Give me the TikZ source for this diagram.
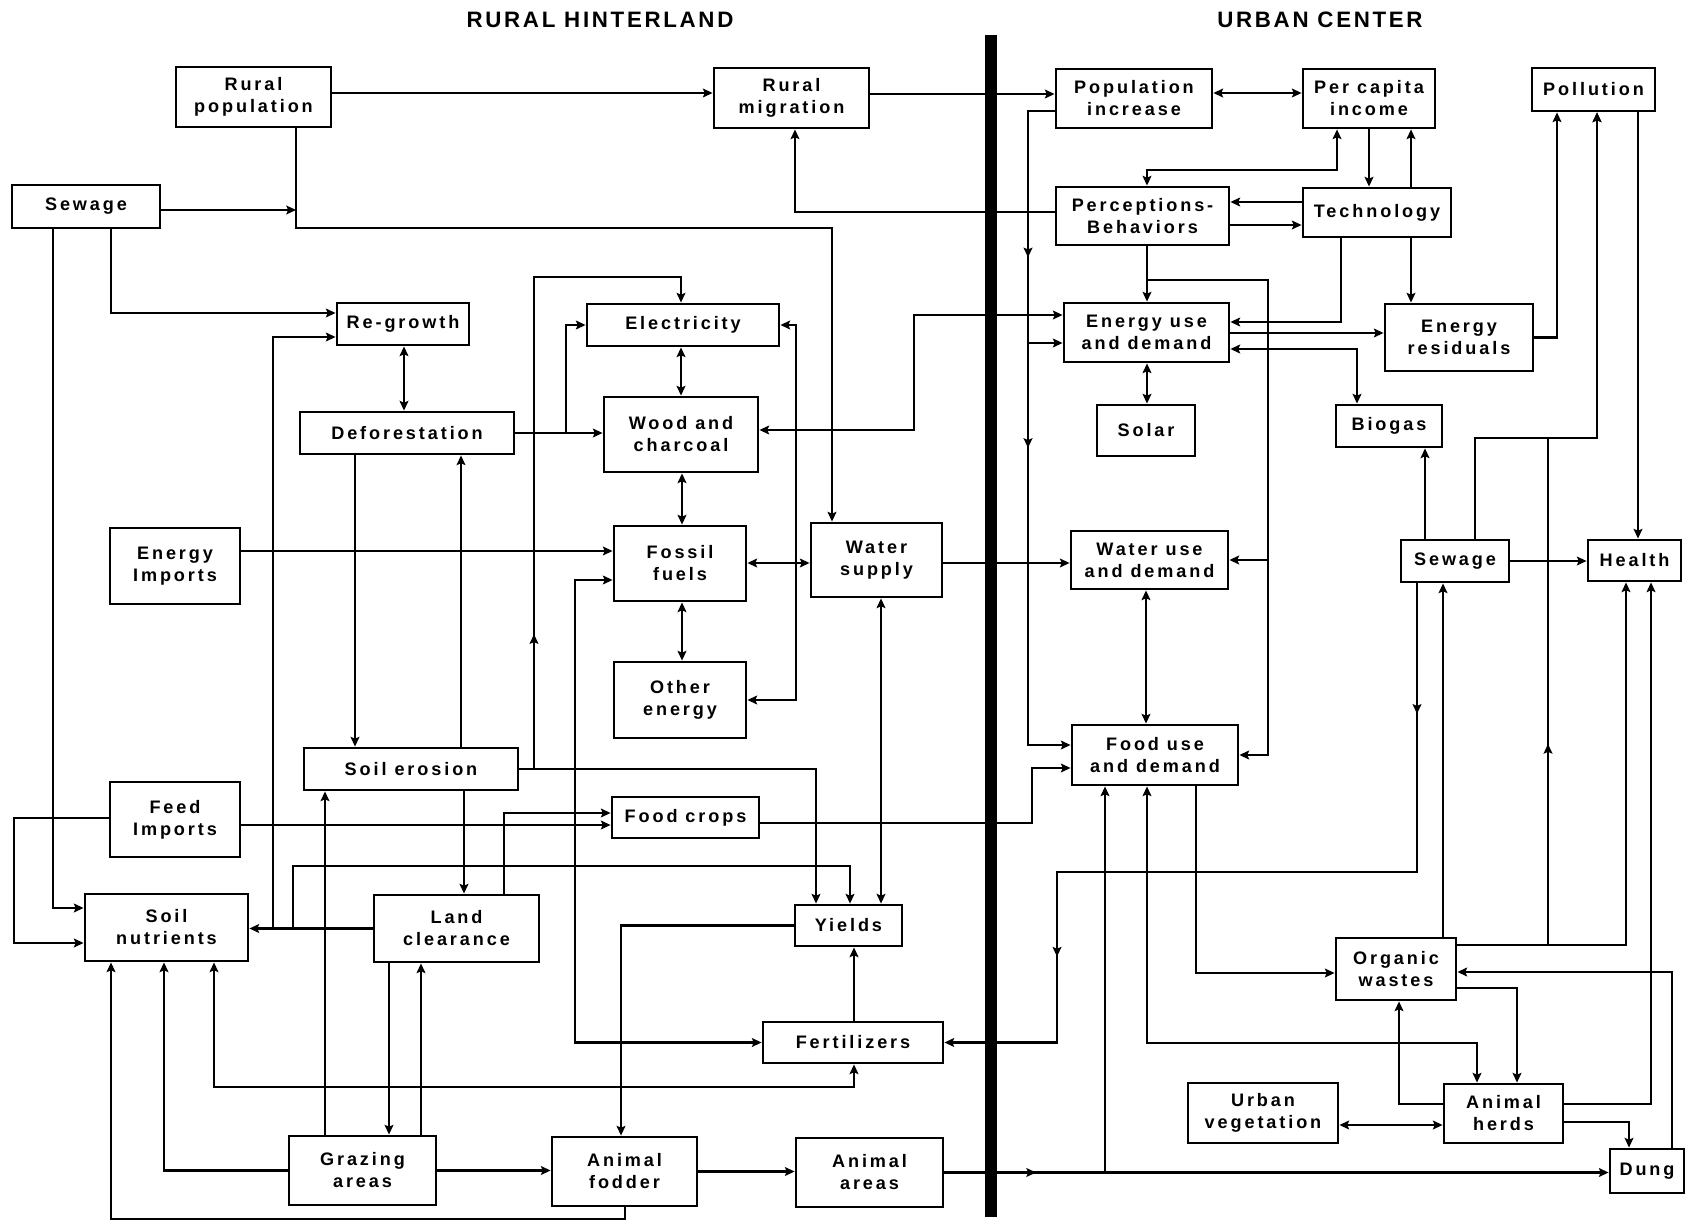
\documentclass[tikz,border=0pt]{standalone}
\usepackage{fontspec}
\newfontfamily\boxfont{Liberation Sans}[LetterSpace=16]
\newfontfamily\headfont{Liberation Sans}[LetterSpace=12]
\usetikzlibrary{arrows.meta,decorations.markings}
\tikzset{
  box/.style={draw, line width=1.6pt, inner sep=0pt, align=center,
    font=\boxfont\bfseries\fontsize{10.3}{12.5}\selectfont},
  sz/.style 2 args={minimum width=#1*0.02cm, minimum height=#2*0.02cm},
  arr/.style={-{Stealth[length=5.5pt,width=5pt,inset=1pt]}},
  dbl/.style={{Stealth[length=5.5pt,width=5pt,inset=1pt]}-{Stealth[length=5.5pt,width=5pt,inset=1pt]}},
  midarrow/.style={postaction={decorate,decoration={markings,
    mark=at position #1 with {\arrow{Stealth[length=5.5pt,width=5pt,inset=1pt]}}}}}
}
\begin{document}
\begin{tikzpicture}[x=0.02cm,y=-0.02cm,line width=1.6pt]
\useasboundingbox (0,0) rectangle (1687,1222);
\node[font=\headfont\bfseries\fontsize{12.7}{15}\selectfont] (rtitle) at (600,20) {RURAL HINTERLAND};
\node[font=\headfont\bfseries\fontsize{12.7}{15}\selectfont] (utitle) at (1320,20) {URBAN CENTER};
\fill (985,35) rectangle (997,1217);
% rural hinterland
\node[box, sz={155}{60}] (rpop) at (253.5,97) {Rural\\population};
\node[box, sz={155}{60}] (rmig) at (791.5,98) {Rural\\migration};
\node[box, sz={148}{43}] (sewL) at (86,206.5) {Sewage};
\node[box, sz={132}{42}] (regr) at (403,324) {Re-growth};
\node[box, sz={214}{42}] (defor) at (407,433) {Deforestation};
\node[box, sz={192}{42}] (elec) at (683,325) {Electricity};
\node[box, sz={154}{75}] (wood) at (681,434.5) {Wood and\\charcoal};
\node[box, sz={130}{76}] (eimp) at (175,566) {Energy\\Imports};
\node[box, sz={132}{75}] (fossil) at (680,563.5) {Fossil\\fuels};
\node[box, sz={131}{74}] (wsup) at (876.5,560) {Water\\supply};
\node[box, sz={132}{76}] (other) at (680,700) {Other\\energy};
\node[box, sz={214}{42}] (soilero) at (411,769) {Soil erosion};
\node[box, sz={130}{75}] (fimp) at (175,819.5) {Feed\\Imports};
\node[box, sz={147}{41}] (fcrop) at (685.5,817.5) {Food crops};
\node[box, sz={163}{67}] (soilnut) at (166.5,927.5) {Soil\\nutrients};
\node[box, sz={165}{67}] (landcl) at (456.5,928.5) {Land\\clearance};
\node[box, sz={107}{41}] (yields) at (848.5,925.5) {Yields};
\node[box, sz={180}{41}] (fert) at (853,1042.5) {Fertilizers};
\node[box, sz={147}{69}] (graz) at (362.5,1170.5) {Grazing\\areas};
\node[box, sz={145}{69}] (fodder) at (624.5,1171.5) {Animal\\fodder};
\node[box, sz={147}{69}] (aareas) at (869.5,1172.5) {Animal\\areas};
% urban center
\node[box, sz={156}{59}] (popinc) at (1134,98.5) {Population\\increase};
\node[box, sz={132}{59}] (pcinc) at (1369,98.5) {Per capita\\income};
\node[box, sz={123}{43}] (poll) at (1593.5,89.5) {Pollution};
\node[box, sz={173}{58}] (percep) at (1142.5,216) {Perceptions-\\Behaviors};
\node[box, sz={148}{49}] (tech) at (1377,212.5) {Technology};
\node[box, sz={165}{59}] (euse) at (1146.5,332.5) {Energy use\\and demand};
\node[box, sz={148}{67}] (eres) at (1459,337.5) {Energy\\residuals};
\node[box, sz={98}{51}] (solar) at (1146,430.5) {Solar};
\node[box, sz={106}{42}] (biogas) at (1389,426) {Biogas};
\node[box, sz={157}{58}] (wuse) at (1149.5,560) {Water use\\and demand};
\node[box, sz={108}{42}] (sewU) at (1455,561) {Sewage};
\node[box, sz={93}{41}] (health) at (1634.5,560.5) {Health};
\node[box, sz={166}{60}] (fuse) at (1155,755) {Food use\\and demand};
\node[box, sz={120}{62}] (organic) at (1396,969) {Organic\\wastes};
\node[box, sz={150}{60}] (urbveg) at (1263,1113) {Urban\\vegetation};
\node[box, sz={119}{59}] (aherds) at (1503.5,1113.5) {Animal\\herds};
\node[box, sz={74}{44}] (dung) at (1647,1171) {Dung};
\coordinate (rbus) at (296,210);
\coordinate (ebus) at (1028,343);
\coordinate (wbus) at (1268,560);
% rural links
\draw[arr] (rpop.east |- 0,93) -- (rmig.west |- 0,93);
\draw[arr] (rmig.east |- 0,94) -- (popinc.west |- 0,94);
\draw[arr] (rpop.south -| 296,0) |- (832,228) -- (wsup.north -| 832,0);
\draw[arr] (sewL.east |- rbus) -- (rbus);
\draw[arr] (sewL.south -| 111,0) |- (regr.west |- 0,313);
\draw[arr] (sewL.south -| 53,0) |- (soilnut.west |- 0,908);
\draw[dbl] (regr.south -| 404,0) -- (defor.north -| 404,0);
\draw[arr] (landcl.west) -- (soilnut.east |- landcl.west);
\draw[arr] (landcl.west -| 273,0) |- (regr.west |- 0,337);
\draw[arr] (landcl.west -| 293,0) |- (850,866) -- (yields.north -| 850,0);
\draw[arr] (defor.south -| 355,0) -- (soilero.north -| 355,0);
\draw[arr] (soilero.north -| 461,0) -- (defor.south -| 461,0);
\draw[arr] (defor.east) -- (wood.west |- defor.east);
\draw[arr] (defor.east -| 566,0) |- (elec.west);
\draw[arr, midarrow=0.22] (soilero.east) -| (534,277) -| (elec.north -| 681,0);
\draw[arr] (soilero.east) -| (yields.north -| 816,0);
\draw[dbl] (elec.south -| 681,0) -- (wood.north -| 681,0);
\draw[dbl] (elec.east) -| (796,500) |- (other.east);
\draw[dbl] (wood.south -| 682,0) -- (fossil.north -| 682,0);
\draw[dbl] (fossil.south -| 682,0) -- (other.north -| 682,0);
\draw[arr] (eimp.east |- 0,551) -- (fossil.west |- 0,551);
\draw[dbl] (fossil.east |- 0,563) -- (wsup.west |- 0,563);
\draw[arr] (wsup.east |- 0,563) -- (wuse.west |- 0,563);
\draw[dbl] (wood.east |- 0,430) -| (914,315) -- (euse.west |- 0,315);
\draw[dbl] (fossil.west |- 0,580) -| (575,900) |- (fert.west);
\draw[arr] (fimp.west |- 0,818) -| (14,880) |- (soilnut.west |- 0,943);
\draw[arr] (fimp.east |- 0,825) -- (fcrop.west |- 0,825);
\draw[arr] (landcl.north -| 504,0) |- (fcrop.west |- 0,813);
\draw[arr] (fcrop.east |- 0,823) -| (1032,790) |- (fuse.west |- 0,768);
\draw[arr] (yields.west) -| (fodder.north -| 621,0);
\draw[arr] (fert.north -| 854,0) -- (yields.south -| 854,0);
\draw[dbl] (fert.south -| 854,0) |- (214,1087) -- (soilnut.south -| 214,0);
\draw[dbl] (wsup.south -| 881,0) -- (yields.north -| 881,0);
\draw[arr] (graz.north -| 325,0) -- (soilero.south -| 325,0);
\draw[arr] (landcl.south -| 389,0) -- (graz.north -| 389,0);
\draw[arr] (graz.north -| 421,0) -- (landcl.south -| 421,0);
\draw[arr] (soilero.south -| 464,0) -- (landcl.north -| 464,0);
\draw[arr] (graz.west) -| (soilnut.south -| 164,0);
\draw[arr] (graz.east) -- (fodder.west |- graz.east);
\draw[arr] (fodder.east) -- (aareas.west |- fodder.east);
\draw[arr] (fodder.south -| 625,0) |- (111,1219) -- (soilnut.south -| 111,0);
% urban links
\draw[arr, midarrow=0.14, midarrow=0.787] (sewU.south -| 1417,0) |- (1057,872) |- (fert.east);
\draw[arr, midarrow=0.138] (aareas.east) -- (dung.west |- aareas.east);
\draw[arr] (aareas.east -| 1105,0) -- (fuse.south -| 1105,0);
\draw[dbl] (aherds.north -| 1477,0) |- (1147,1043) -- (fuse.south -| 1147,0);
\draw[arr] (fuse.south -| 1196,0) |- (organic.west |- 0,973);
\draw[arr] (aherds.west |- 0,1104) -| (organic.south -| 1399,0);
\draw[arr] (organic.east |- 0,988) -| (aherds.north -| 1517,0);
\draw[dbl] (urbveg.east |- 0,1125) -- (aherds.west |- 0,1125);
\draw[arr] (aherds.east |- 0,1104) -| (health.south -| 1651,0);
\draw[arr] (aherds.east |- 0,1122) -| (dung.north -| 1629,0);
\draw[arr] (dung.north -| 1672,0) |- (organic.east |- 0,972);
\draw[arr] (organic.east |- 0,945) -| (health.south -| 1626,0);
\draw[arr, midarrow=0.3] (organic.east |- 0,945) -| (1548,438) -| (poll.south -| 1597,0);
\draw[arr] (sewU.north -| 1475,0) |- (1597,438) -- (poll.south -| 1597,0);
\draw[arr] (eres.east) -| (poll.south -| 1557,0);
\draw[arr] (poll.south -| 1638,0) -- (health.north -| 1638,0);
\draw[arr] (sewU.east) -- (health.west |- sewU.east);
\draw[arr] (sewU.north -| 1425,0) -- (biogas.south -| 1425,0);
\draw[arr] (organic.north -| 1443,0) -- (sewU.south -| 1443,0);
\draw[dbl] (popinc.east |- 0,93) -- (pcinc.west |- 0,93);
\draw[dbl] (pcinc.south -| 1337,0) |- (1147,170) -- (percep.north -| 1147,0);
\draw[arr] (pcinc.south -| 1369,0) -- (tech.north -| 1369,0);
\draw[arr] (tech.north -| 1411,0) -- (pcinc.south -| 1411,0);
\draw[arr] (tech.west |- 0,202) -- (percep.east |- 0,202);
\draw[arr] (percep.east |- 0,225) -- (tech.west |- 0,225);
\draw[arr] (percep.west |- 0,212) -| (rmig.south -| 795,0);
\draw[arr, midarrow=0.246, midarrow=0.517] (popinc.west |- 0,111) -| (1028,600) |- (fuse.west |- 0,745);
\draw[arr] (ebus) -- (euse.west |- ebus);
\draw[arr] (percep.south -| 1147,0) -- (euse.north -| 1147,0);
\draw[arr] (percep.south -| 1147,0) |- (1268,280) |- (fuse.east);
\draw[arr] (wbus) -- (wuse.east |- wbus);
\draw[arr] (tech.south -| 1341,0) |- (euse.east |- 0,322);
\draw[arr] (euse.east |- 0,333) -- (eres.west |- 0,333);
\draw[dbl] (euse.east |- 0,349) -| (biogas.north -| 1357,0);
\draw[dbl] (euse.south -| 1147,0) -- (solar.north -| 1147,0);
\draw[arr] (tech.south -| 1411,0) -- (eres.north -| 1411,0);
\draw[dbl] (wuse.south -| 1146,0) -- (fuse.north -| 1146,0);
\end{tikzpicture}
\end{document}
